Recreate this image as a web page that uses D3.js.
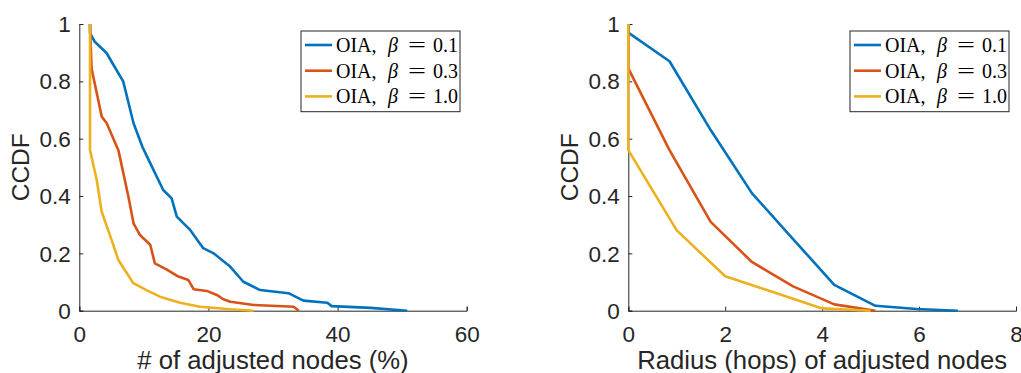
<!DOCTYPE html>
<html lang="en">
<head>
<meta charset="UTF-8">
<title>CCDF</title>
<script src="https://cdn.jsdelivr.net/npm/d3@7"></script>
<style>
  body { margin: 0; background: #fff; }
  svg { display: block; }
  .tick text { font-family: "Liberation Sans", Arial, sans-serif; font-size: 22.5px; fill: #262626; }
  .lab { font-family: "Liberation Sans", Arial, sans-serif; fill: #262626; }
  .leg { font-family: "Liberation Serif", "DejaVu Serif", serif; font-size: 20px; fill: #000; }
</style>
</head>
<body>
<div id="chart"></div>
<script>
// series names + colours (matlab defaults)
var seriesNames = ["OIA, \u03b2 = 0.1", "OIA, \u03b2 = 0.3", "OIA, \u03b2 = 1.0"];
var betaVals = ["0.1", "0.3", "1.0"];
var colors = ["#0072BD", "#D95319", "#EDB120"];
var yTicks = [0, 0.2, 0.4, 0.6, 0.8, 1];

// left panel: # of adjusted nodes (%)
var nodesTicks = [0, 20, 40, 60];
var nodesB01 = [[1.66,1],[1.66,0.968],[2.4,0.938],[4.25,0.898],[5.3,0.857],[6.8,0.80],[8.4,0.654],[9.8,0.57],[11,0.514],[12,0.467],[13,0.421],[14.3,0.392],[15.1,0.328],[17.2,0.281],[19.2,0.218],[20.8,0.2],[23.4,0.153],[25.4,0.101],[28,0.072],[32.4,0.061],[34.7,0.035],[38.4,0.028],[39.1,0.016],[45.1,0.010],[50.8,0]];
var nodesB03 = [[1.66,1],[1.9,0.845],[3.47,0.677],[4.25,0.654],[6.05,0.56],[7.6,0.398],[8.4,0.305],[9.4,0.264],[11,0.229],[11.7,0.165],[13.5,0.144],[15.35,0.119],[16.9,0.107],[17.7,0.075],[19.75,0.069],[21.3,0.055],[22.3,0.04],[23.4,0.031],[27,0.02],[33.2,0.014],[34,0]];
var nodesB10 = [[1.66,1],[1.66,0.56],[2.7,0.456],[3.47,0.345],[5,0.247],[6.05,0.177],[8.37,0.096],[10.4,0.072],[12.5,0.049],[15.6,0.028],[18.7,0.014],[23.4,0.005],[27,0]];

// right panel: radius (hops)
var hopsTicks = [0, 2, 4, 6, 8];
var hopsB01 = [[0,1],[0,0.97],[0.85,0.87],[1.7,0.63],[2.55,0.41],[3.4,0.25],[4.25,0.09],[5.1,0.017],[5.95,0.006],[6.8,0]];
var hopsB03 = [[0,1],[0,0.845],[0.85,0.56],[1.7,0.31],[2.55,0.17],[3.4,0.085],[4.25,0.022],[5.1,0]];
var hopsB10 = [[0,1],[0,0.56],[1,0.28],[2,0.12],[3,0.064],[4,0.008],[5,0]];

var W = 1021, H = 373;
var svg = d3.select("#chart").append("svg").attr("width", W).attr("height", H);

function drawPanel(p) {
    var x = d3.scaleLinear().domain([p.ticks[0], p.ticks[p.ticks.length-1]]).range([p.x0, p.x1]);
    var y = d3.scaleLinear().domain([0, 1]).range([310.7, 24]);
    var g = svg.append("g");

    var xa = g.append("g").attr("transform", "translate(0,310.7)")
        .call(d3.axisBottom(x).tickValues(p.ticks).tickSize(-4).tickFormat(d3.format("d")));
    var ya = g.append("g").attr("transform", "translate(" + p.x0 + ",0)")
        .call(d3.axisLeft(y).tickValues(yTicks).tickSize(-4).tickFormat(function(d){ return d === 0 || d === 1 ? d : d3.format(".1f")(d); }));
    [xa, ya].forEach(function(a) {
        a.select(".domain").attr("stroke", "#262626").attr("stroke-width", 1);
        a.selectAll(".tick line").attr("stroke", "#262626");
    });
    xa.selectAll(".tick text").attr("y", 31).attr("dy", 0);
    ya.selectAll(".tick text").attr("x", -8.5).attr("dy", "0.34em");

    var line = d3.line().x(function(d){ return x(d[0]); }).y(function(d){ return y(d[1]); });
    p.data.forEach(function(s, i) {
        g.append("path").datum(s).attr("d", line).attr("fill", "none")
            .attr("stroke", colors[i]).attr("stroke-width", 2.6).attr("stroke-linejoin", "round");
    });

    g.append("text").attr("class", "lab").attr("text-anchor", "middle").style("font-size", p.xlabSize + "px")
        .attr("x", (p.x0 + p.x1) / 2).attr("y", 368.5).text(p.xlabel);
    g.append("text").attr("class", "lab").attr("text-anchor", "middle").style("font-size", "24.5px")
        .attr("transform", "translate(" + p.ylabX + ",167.3) rotate(-90)").text("CCDF");

    // legend
    var lg = g.append("g").attr("transform", "translate(" + p.legX + ",31)");
    lg.append("rect").attr("width", 159).attr("height", 80.7).attr("fill", "#fff")
        .attr("stroke", "#262626").attr("stroke-width", 1);
    betaVals.forEach(function(b, i) {
        var yy = 14 + i * 25.7;
        lg.append("line").attr("x1", 4).attr("x2", 31).attr("y1", yy).attr("y2", yy)
            .attr("stroke", colors[i]).attr("stroke-width", 2.6);
        var by = yy + 7;
        lg.append("text").attr("class", "leg").attr("x", 35).attr("y", by).text("OIA,");
        lg.append("text").attr("class", "leg").attr("x", 87).attr("y", by)
            .attr("font-style", "italic").text("\u03b2");
        lg.append("text").attr("class", "leg").attr("transform", "translate(107," + by + ") scale(1.6,1)").text("=");
        lg.append("text").attr("class", "leg").attr("x", 132).attr("y", by).text(b);
    });
}

drawPanel({ x0: 79.3, x1: 466.7, ticks: nodesTicks, data: [nodesB01, nodesB03, nodesB10],
            xlabel: "# of adjusted nodes (%)", xlabSize: 25.7, ylabX: 28.5, legX: 301 });
drawPanel({ x0: 628.3, x1: 1016, ticks: hopsTicks, data: [hopsB01, hopsB03, hopsB10],
            xlabel: "Radius (hops) of adjusted nodes", xlabSize: 25.7, ylabX: 577.5, legX: 850 });
</script>
</body>
</html>
